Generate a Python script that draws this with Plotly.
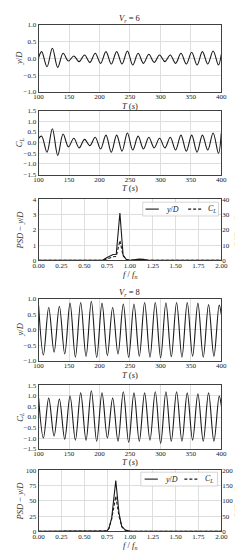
import plotly.graph_objects as go

# ---------------- data ----------------
# Vr = 6 time series: extrema of the response
t_vr6 = [100, 105, 113.8, 122.6, 131.4, 140.2, 149, 157.8, 166.6, 175.4, 184.2, 193,
         201.8, 210.6, 219.4, 228.2, 237, 245.8, 254.6, 263.4, 272.2, 281, 289.8,
         298.6, 307.4, 316.2, 325, 333.8, 342.6, 351.4, 360.2, 369, 377.8, 386.6,
         395.4, 400]
yD_vr6 = [0.02, 0.2, -0.25, 0.3, -0.27, 0.15, -0.08, 0.07, -0.1, 0.1, -0.12, 0.15,
          -0.15, 0.2, -0.17, 0.2, -0.17, 0.22, -0.2, 0.15, -0.15, 0.12, -0.12,
          0.1, -0.1, 0.1, -0.15, 0.15, -0.17, 0.18, -0.2, 0.2, -0.17, 0.22,
          -0.2, 0.12]
CL_vr6 = [0.2, 0.3, -0.45, 0.65, -0.6, 0.4, -0.2, 0.2, -0.25, 0.15, -0.15, 0.25,
          -0.3, 0.35, -0.45, 0.35, -0.4, 0.45, -0.35, 0.3, -0.3, 0.25, -0.25,
          0.2, -0.25, 0.25, -0.35, 0.35, -0.4, 0.35, -0.45, 0.35, -0.35, 0.45,
          -0.5, 0.45]

# Vr = 6 spectra
f_vr6 = [0, 0.1, 0.2, 0.3, 0.4, 0.45, 0.5, 0.55, 0.6, 0.7, 0.74, 0.78, 0.815, 0.85,
         0.89, 0.925, 0.96, 1.0, 1.05, 1.1, 1.15, 1.2, 1.3, 1.5, 1.7, 2.0]
psd_yD_vr6 = [0, 0, 0, 0, 0, 0.02, 0.03, 0.02, 0, 0.01, 0.15, 0.3, 0.38, 0.4,
              3.1, 0.35, 0.05, 0, 0.05, 0.08, 0.06, 0.01, 0, 0, 0, 0]
psd_CL_vr6 = [0, 0, 0, 0, 0, 0.1, 0.2, 0.1, 0, 0.1, 0.8, 1.8, 2.3, 2.5,
              13, 3, 0.5, 0, 0.3, 0.5, 0.4, 0.1, 0, 0, 0, 0]

# Vr = 8 time series
t_vr8 = [100, 107.9, 116.6, 125.4, 134.1, 142.9, 151.6, 160.4, 169.1, 177.9, 186.6,
         195.4, 204.1, 212.9, 221.6, 230.4, 239.1, 247.9, 256.6, 265.4, 274.1,
         282.9, 291.6, 300.4, 309.1, 317.9, 326.6, 335.4, 344.1, 352.9, 361.6,
         370.4, 379.1, 387.9, 396.6, 400]
yD_vr8 = [0.78, -0.81, 0.72, -0.72, 0.76, -0.78, 0.86, -0.88, 0.88, -0.86, 0.92,
          -0.89, 0.86, -0.83, 0.72, -0.78, 0.83, -0.89, 0.83, -0.85, 0.88,
          -0.88, 0.88, -0.9, 0.87, -0.87, 0.88, -0.88, 0.88, -0.85, 0.86,
          -0.88, 0.81, -0.85, 0.8, 0.5]
CL_vr8 = [0.9, -1.0, 0.9, -0.9, 0.85, -1.05, 1.0, -1.1, 1.15, -1.1, 1.25,
          -1.15, 1.15, -1.0, 0.9, -1.15, 1.2, -1.2, 1.15, -1.15, 1.15,
          -1.1, 1.2, -1.25, 1.2, -1.15, 1.2, -1.15, 1.15, -1.1, 1.1,
          -1.15, 1.15, -1.15, 1.0, 0.55]

# Vr = 8 spectra
f_vr8 = [0, 0.25, 0.5, 0.7, 0.75, 0.77, 0.8, 0.845, 0.88, 0.91, 0.95, 1.0, 1.25, 1.5, 2.0]
psd_yD_vr8 = [0, 0, 0.1, 0.3, 0.8, 5, 22, 83, 30, 8, 2, 0.5, 0, 0, 0]
psd_CL_vr8 = [0, 0, 0.2, 0.5, 1.5, 10, 40, 115, 50, 15, 3, 0.5, 0, 0, 0]

# ---------------- layout helpers ----------------
W, H = 243, 550
FONT = "Liberation Serif"
INK = "#1a1a1a"
GRID = "#dedede"
FRAME = "#404040"


def px(x):
    return x / W


def py(y):
    return 1 - y / H


X0, X1 = 26, 219
panels = [(13, 81), (100, 165), (190, 252), (291, 354), (379, 443), (465, 527)]

fig = go.Figure()

line = dict(color=INK, width=1.1)
dash = dict(color=INK, width=1.1, dash="3px,2px")

fig.add_trace(go.Scatter(x=t_vr6, y=yD_vr6, mode="lines", line=dict(**line, shape="spline", smoothing=1.0),
                         xaxis="x", yaxis="y", showlegend=False))
fig.add_trace(go.Scatter(x=t_vr6, y=CL_vr6, mode="lines", line=dict(**line, shape="spline", smoothing=1.0),
                         xaxis="x2", yaxis="y2", showlegend=False))
fig.add_trace(go.Scatter(x=f_vr6, y=psd_yD_vr6, mode="lines", line=line,
                         xaxis="x3", yaxis="y3", showlegend=False))
fig.add_trace(go.Scatter(x=f_vr6, y=psd_CL_vr6, mode="lines", line=dash,
                         xaxis="x3", yaxis="y7", showlegend=False))
fig.add_trace(go.Scatter(x=t_vr8, y=yD_vr8, mode="lines", line=dict(**line, shape="spline", smoothing=1.0),
                         xaxis="x4", yaxis="y4", showlegend=False))
fig.add_trace(go.Scatter(x=t_vr8, y=CL_vr8, mode="lines", line=dict(**line, shape="spline", smoothing=1.0),
                         xaxis="x5", yaxis="y5", showlegend=False))
fig.add_trace(go.Scatter(x=f_vr8, y=psd_yD_vr8, mode="lines", line=line,
                         xaxis="x6", yaxis="y6", showlegend=False))
fig.add_trace(go.Scatter(x=f_vr8, y=psd_CL_vr8, mode="lines", line=dash,
                         xaxis="x6", yaxis="y8", showlegend=False))

tickfont = dict(family=FONT, size=7, color=INK)
common = dict(showline=True, mirror=True, linecolor=FRAME, linewidth=0.8,
              showgrid=True, gridcolor=GRID, gridwidth=0.6, zeroline=False,
              ticks="", tickfont=tickfont)

ts_x = dict(range=[100, 400], dtick=50, tick0=100, ticklabelstandoff=-2, **common)
f_x = dict(range=[0, 2], dtick=0.25, tick0=0, tickformat=".2f", ticklabelstandoff=-2, **common)

layout = dict(width=W, height=H, margin=dict(l=0, r=0, t=0, b=0),
              paper_bgcolor="white", plot_bgcolor="white", showlegend=False)

xcfg = [ts_x, ts_x, f_x, ts_x, ts_x, f_x]
ycfg = [dict(range=[-1, 1], dtick=0.5, tickformat=".1f"),
        dict(range=[-1.5, 1.5], dtick=0.5, tickformat=".1f"),
        dict(range=[0, 4], dtick=1),
        dict(range=[-1, 1], dtick=0.5, tickformat=".1f"),
        dict(range=[-1.5, 1.5], dtick=0.5, tickformat=".1f"),
        dict(range=[0, 100], dtick=25)]

for i, (top, bot) in enumerate(panels):
    n = "" if i == 0 else str(i + 1)
    layout["xaxis" + n] = dict(domain=[px(X0), px(X1)], anchor="y" + n, **xcfg[i])
    layout["yaxis" + n] = dict(domain=[py(bot), py(top)], anchor="x" + n, **ycfg[i], **common)

right_common = dict(showline=False, showgrid=False, zeroline=False, ticks="",
                    tickfont=tickfont, side="right")
layout["yaxis7"] = dict(overlaying="y3", anchor="x3", range=[0, 40], dtick=10, **right_common)
layout["yaxis8"] = dict(overlaying="y6", anchor="x6", range=[0, 200], dtick=50, **right_common)

fig.update_layout(**layout)

tf = dict(family=FONT, size=8.5, color=INK)
ann = []


def label(text, x, y, angle=0):
    ann.append(dict(text=text, x=px(x), y=py(y), xref="paper", yref="paper",
                    showarrow=False, font=tf, textangle=angle,
                    xanchor="center", yanchor="middle"))


xc = (X0 + X1) / 2
label("<i>V</i><sub><i>r</i></sub> = 6", xc, 7)
label("<i>V</i><sub><i>r</i></sub> = 8", xc, 285)
ts_title = "<i>T</i> (<i>s</i>)"
f_title = "<i>f</i> / <i>f</i><sub><i>n</i></sub>"
below = [ts_title, ts_title, f_title, ts_title, ts_title, f_title]
left = ["<i>y</i>/<i>D</i>", "<i>C</i><sub><i>L</i></sub>", "<i>PSD</i> − <i>y</i>/<i>D</i>",
        "<i>y</i>/<i>D</i>", "<i>C</i><sub><i>L</i></sub>", "<i>PSD</i> − <i>y</i>/<i>D</i>"]
for i, (top, bot) in enumerate(panels):
    label(below[i], xc, bot + 14)
    label(left[i], 6, (top + bot) / 2, -90)
for i in (2, 5):
    top, bot = panels[i]
    label("<i>PSD</i> − <i>C</i><sub><i>L</i></sub>", 237.5, (top + bot) / 2, -90)

# legends (manual, inside the PSD panels)
shapes = []
leg_font = dict(family=FONT, size=8, color=INK)
for (bx0, by0, bx1, by1, ly, s0, s1, tx1, d0, d1, tx2) in [
        (136, 193, 216, 207, 200, 139, 153, 158, 184, 198, 203),
        (134, 467, 215, 481, 474, 138, 152, 157, 180, 194, 200)]:
    shapes.append(dict(type="rect", xref="paper", yref="paper",
                       x0=px(bx0), x1=px(bx1), y0=py(by1), y1=py(by0),
                       line=dict(color="#cccccc", width=0.8), fillcolor="rgba(255,255,255,0.85)"))
    shapes.append(dict(type="line", xref="paper", yref="paper",
                       x0=px(s0), x1=px(s1), y0=py(ly), y1=py(ly), line=line))
    shapes.append(dict(type="line", xref="paper", yref="paper",
                       x0=px(d0), x1=px(d1), y0=py(ly), y1=py(ly), line=dash))
    ann.append(dict(text="<i>y</i>/<i>D</i>", x=px(tx1), y=py(ly), xref="paper", yref="paper",
                    showarrow=False, font=leg_font, xanchor="left", yanchor="middle"))
    ann.append(dict(text="<i>C</i><sub><i>L</i></sub>", x=px(tx2), y=py(ly), xref="paper", yref="paper",
                    showarrow=False, font=leg_font, xanchor="left", yanchor="middle"))

fig.update_layout(annotations=ann, shapes=shapes)
fig.write_html("out.html")
